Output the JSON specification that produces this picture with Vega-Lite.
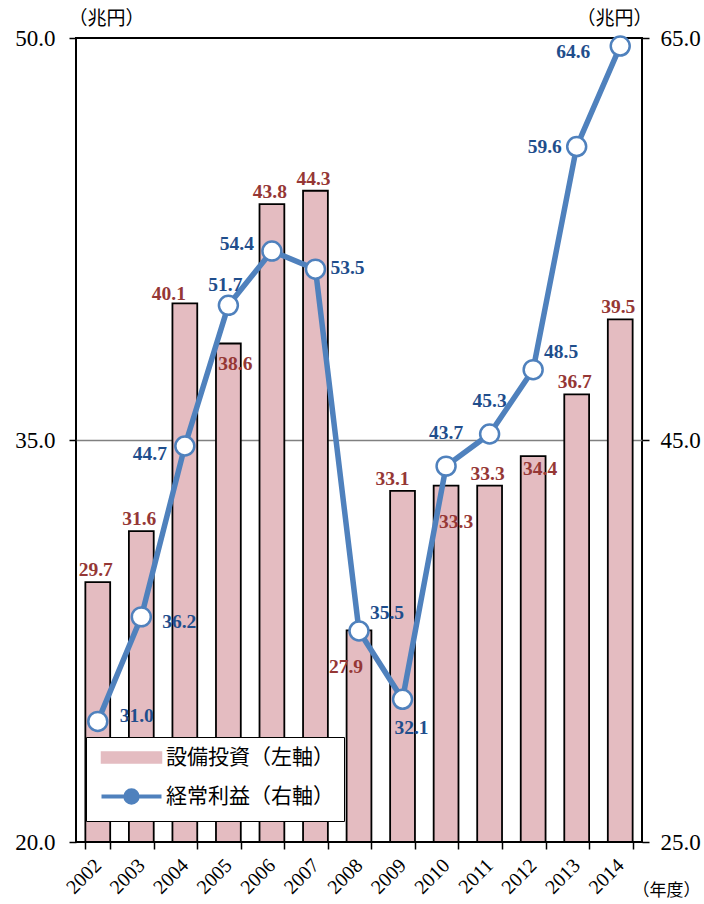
{
  "$schema": "https://vega.github.io/schema/vega-lite/v6.json",
  "width": 566,
  "height": 804,
  "autosize": "none",
  "padding": {"left": 76, "top": 38, "right": 62, "bottom": 62},
  "background": "white",
  "config": {
    "view": {"stroke": "black", "strokeWidth": 2},
    "axis": {
      "domain": false,
      "tickColor": "black",
      "tickWidth": 1.5,
      "tickSize": 7,
      "labelColor": "black",
      "labelFont": "Liberation Serif",
      "titleFont": "Noto Sans CJK JP",
      "titleFontWeight": "normal",
      "titleColor": "black"
    },
    "legend": {
      "orient": "none",
      "legendX": 10,
      "legendY": 699,
      "padding": 10,
      "strokeColor": "black",
      "fillColor": "white",
      "labelFont": "Noto Sans CJK JP",
      "labelFontSize": 21,
      "labelColor": "black",
      "labelLimit": 400,
      "symbolSize": 400,
      "symbolOffset": 25,
      "labelOffset": 24,
      "rowPadding": 14
    }
  },
  "data": {
    "values": [
      {"year": "2002", "capex": 29.7, "profit": 31.0},
      {"year": "2003", "capex": 31.6, "profit": 36.2},
      {"year": "2004", "capex": 40.1, "profit": 44.7},
      {"year": "2005", "capex": 38.6, "profit": 51.7},
      {"year": "2006", "capex": 43.8, "profit": 54.4},
      {"year": "2007", "capex": 44.3, "profit": 53.5},
      {"year": "2008", "capex": 27.9, "profit": 35.5},
      {"year": "2009", "capex": 33.1, "profit": 32.1},
      {"year": "2010", "capex": 33.3, "profit": 43.7},
      {"year": "2011", "capex": 33.3, "profit": 45.3},
      {"year": "2012", "capex": 34.4, "profit": 48.5},
      {"year": "2013", "capex": 36.7, "profit": 59.6},
      {"year": "2014", "capex": 39.5, "profit": 64.6}
    ]
  },
  "encoding": {
    "x": {
      "field": "year",
      "type": "ordinal",
      "scale": {"paddingInner": 0.43, "paddingOuter": 0.215},
      "axis": {
        "title": "（年度）",
        "titleFontSize": 17,
        "titleAngle": 0,
        "titleAlign": "left",
        "titleBaseline": "middle",
        "titleX": 556,
        "titleY": 48,
        "labelAngle": -45,
        "labelAlign": "right",
        "labelBaseline": "middle",
        "labelFontSize": 20,
        "labelPadding": 13,
        "labelLimit": 0,
        "labelOverlap": false,
        "tickBand": "extent"
      }
    }
  },
  "layer": [
    {
      "encoding": {
        "y": {
          "field": "capex",
          "type": "quantitative",
          "scale": {"domain": [20, 50], "nice": false, "zero": false},
          "axis": {
            "orient": "left",
            "values": [20, 35, 50],
            "format": ".1f",
            "labelFontSize": 23,
            "labelPadding": 14,
            "grid": true,
            "gridColor": "#808080",
            "gridWidth": 1.5,
            "gridOpacity": {"condition": {"test": "datum.value === 35", "value": 1}, "value": 0},
            "title": "（兆円）",
            "titleFontSize": 19,
            "titleAngle": 0,
            "titleAlign": "left",
            "titleBaseline": "middle",
            "titleX": -8,
            "titleY": -20
          }
        }
      },
      "layer": [
        {
          "mark": {"type": "bar", "stroke": "black", "strokeWidth": 1.8},
          "encoding": {
            "y2": {"datum": 20},
            "color": {
              "datum": "設備投資（左軸）",
              "type": "nominal",
              "scale": {
                "domain": ["設備投資（左軸）", "経常利益（右軸）"],
                "range": ["#e4bcc1", "#4f81bd"]
              },
              "legend": {
                "title": null,
                "encode": {
                  "symbols": {
                    "update": {
                      "shape": {"signal": "datum.value === '設備投資（左軸）' ? 'M-3,-0.55H3V0.55H-3Z' : 'M-3,0H-0.62M0.62,0H3M0.62,0A0.62,0.62,0,1,1,-0.62,0A0.62,0.62,0,1,1,0.62,0Z'"},
                      "strokeWidth": {"signal": "datum.value === '設備投資（左軸）' ? 1.5 : 4"},
                      "opacity": {"value": 1}
                    }
                  }
                }
              }
            }
          }
        },
        {
          "transform": [{"filter": {"field": "year", "oneOf": ["2002", "2003", "2006", "2007", "2011", "2013", "2014"]}}],
          "mark": {"type": "text", "font": "Liberation Serif", "fontWeight": "bold", "fontSize": 19.5, "color": "#953735", "baseline": "middle", "dx": -2, "dy": -12},
          "encoding": {"text": {"field": "capex", "type": "quantitative", "format": ".1f"}}
        },
        {
          "transform": [{"filter": {"field": "year", "oneOf": ["2004"]}}],
          "mark": {"type": "text", "font": "Liberation Serif", "fontWeight": "bold", "fontSize": 19.5, "color": "#953735", "baseline": "middle", "dx": -16, "dy": -9},
          "encoding": {"text": {"field": "capex", "type": "quantitative", "format": ".1f"}}
        },
        {
          "transform": [{"filter": {"field": "year", "oneOf": ["2009"]}}],
          "mark": {"type": "text", "font": "Liberation Serif", "fontWeight": "bold", "fontSize": 19.5, "color": "#953735", "baseline": "middle", "dx": -10, "dy": -12},
          "encoding": {"text": {"field": "capex", "type": "quantitative", "format": ".1f"}}
        },
        {
          "transform": [{"filter": {"field": "year", "oneOf": ["2005"]}}],
          "mark": {"type": "text", "font": "Liberation Serif", "fontWeight": "bold", "fontSize": 19.5, "color": "#953735", "baseline": "middle", "dx": 7, "dy": 20},
          "encoding": {"text": {"field": "capex", "type": "quantitative", "format": ".1f"}}
        },
        {
          "transform": [{"filter": {"field": "year", "oneOf": ["2008"]}}],
          "mark": {"type": "text", "font": "Liberation Serif", "fontWeight": "bold", "fontSize": 19.5, "color": "#953735", "baseline": "middle", "dx": -13, "dy": 37},
          "encoding": {"text": {"field": "capex", "type": "quantitative", "format": ".1f"}}
        },
        {
          "transform": [{"filter": {"field": "year", "oneOf": ["2010"]}}],
          "mark": {"type": "text", "font": "Liberation Serif", "fontWeight": "bold", "fontSize": 19.5, "color": "#953735", "baseline": "middle", "dx": 10, "dy": 36},
          "encoding": {"text": {"field": "capex", "type": "quantitative", "format": ".1f"}}
        },
        {
          "transform": [{"filter": {"field": "year", "oneOf": ["2012"]}}],
          "mark": {"type": "text", "font": "Liberation Serif", "fontWeight": "bold", "fontSize": 19.5, "color": "#953735", "baseline": "middle", "dx": 7, "dy": 13},
          "encoding": {"text": {"field": "capex", "type": "quantitative", "format": ".1f"}}
        }
      ]
    },
    {
      "encoding": {
        "y": {
          "field": "profit",
          "type": "quantitative",
          "scale": {"domain": [25, 65], "nice": false, "zero": false},
          "axis": {
            "orient": "right",
            "values": [25, 45, 65],
            "format": ".1f",
            "labelFontSize": 23,
            "labelPadding": 11,
            "grid": false,
            "title": "（兆円）",
            "titleFontSize": 19,
            "titleAngle": 0,
            "titleAlign": "right",
            "titleBaseline": "middle",
            "titleX": 10,
            "titleY": -20
          }
        }
      },
      "layer": [
        {
          "mark": {"type": "line", "strokeWidth": 5.5},
          "encoding": {
            "color": {
              "datum": "経常利益（右軸）",
              "type": "nominal",
              "legend": {
                "title": null,
                "encode": {
                  "symbols": {
                    "update": {
                      "shape": {"signal": "datum.value === '設備投資（左軸）' ? 'M-3,-0.55H3V0.55H-3Z' : 'M-3,0H-0.62M0.62,0H3M0.62,0A0.62,0.62,0,1,1,-0.62,0A0.62,0.62,0,1,1,0.62,0Z'"},
                      "strokeWidth": {"signal": "datum.value === '設備投資（左軸）' ? 1.5 : 4"},
                      "opacity": {"value": 1}
                    }
                  }
                }
              }
            }
          }
        },
        {
          "mark": {"type": "point", "shape": "circle", "filled": true, "fill": "white", "stroke": "#4f81bd", "strokeWidth": 2.5, "size": 360, "opacity": 1}
        },
        {
          "transform": [{"filter": {"field": "year", "oneOf": ["2002"]}}],
          "mark": {"type": "text", "font": "Liberation Serif", "fontWeight": "bold", "fontSize": 19.5, "color": "#1f4e8c", "baseline": "middle", "dx": 39, "dy": -5},
          "encoding": {"text": {"field": "profit", "type": "quantitative", "format": ".1f"}}
        },
        {
          "transform": [{"filter": {"field": "year", "oneOf": ["2003"]}}],
          "mark": {"type": "text", "font": "Liberation Serif", "fontWeight": "bold", "fontSize": 19.5, "color": "#1f4e8c", "baseline": "middle", "dx": 38, "dy": 5},
          "encoding": {"text": {"field": "profit", "type": "quantitative", "format": ".1f"}}
        },
        {
          "transform": [{"filter": {"field": "year", "oneOf": ["2007"]}}],
          "mark": {"type": "text", "font": "Liberation Serif", "fontWeight": "bold", "fontSize": 19.5, "color": "#1f4e8c", "baseline": "middle", "dx": 32, "dy": -1},
          "encoding": {"text": {"field": "profit", "type": "quantitative", "format": ".1f"}}
        },
        {
          "transform": [{"filter": {"field": "year", "oneOf": ["2004"]}}],
          "mark": {"type": "text", "font": "Liberation Serif", "fontWeight": "bold", "fontSize": 19.5, "color": "#1f4e8c", "baseline": "middle", "dx": -35, "dy": 8},
          "encoding": {"text": {"field": "profit", "type": "quantitative", "format": ".1f"}}
        },
        {
          "transform": [{"filter": {"field": "year", "oneOf": ["2006"]}}],
          "mark": {"type": "text", "font": "Liberation Serif", "fontWeight": "bold", "fontSize": 19.5, "color": "#1f4e8c", "baseline": "middle", "dx": -35, "dy": -7},
          "encoding": {"text": {"field": "profit", "type": "quantitative", "format": ".1f"}}
        },
        {
          "transform": [{"filter": {"field": "year", "oneOf": ["2013"]}}],
          "mark": {"type": "text", "font": "Liberation Serif", "fontWeight": "bold", "fontSize": 19.5, "color": "#1f4e8c", "baseline": "middle", "dx": -32, "dy": 0},
          "encoding": {"text": {"field": "profit", "type": "quantitative", "format": ".1f"}}
        },
        {
          "transform": [{"filter": {"field": "year", "oneOf": ["2014"]}}],
          "mark": {"type": "text", "font": "Liberation Serif", "fontWeight": "bold", "fontSize": 19.5, "color": "#1f4e8c", "baseline": "middle", "dx": -47, "dy": 6},
          "encoding": {"text": {"field": "profit", "type": "quantitative", "format": ".1f"}}
        },
        {
          "transform": [{"filter": {"field": "year", "oneOf": ["2005"]}}],
          "mark": {"type": "text", "font": "Liberation Serif", "fontWeight": "bold", "fontSize": 19.5, "color": "#1f4e8c", "baseline": "middle", "dx": -3, "dy": -20},
          "encoding": {"text": {"field": "profit", "type": "quantitative", "format": ".1f"}}
        },
        {
          "transform": [{"filter": {"field": "year", "oneOf": ["2010", "2011"]}}],
          "mark": {"type": "text", "font": "Liberation Serif", "fontWeight": "bold", "fontSize": 19.5, "color": "#1f4e8c", "baseline": "middle", "dx": 0, "dy": -33},
          "encoding": {"text": {"field": "profit", "type": "quantitative", "format": ".1f"}}
        },
        {
          "transform": [{"filter": {"field": "year", "oneOf": ["2008", "2012"]}}],
          "mark": {"type": "text", "font": "Liberation Serif", "fontWeight": "bold", "fontSize": 19.5, "color": "#1f4e8c", "baseline": "middle", "dx": 28, "dy": -18},
          "encoding": {"text": {"field": "profit", "type": "quantitative", "format": ".1f"}}
        },
        {
          "transform": [{"filter": {"field": "year", "oneOf": ["2009"]}}],
          "mark": {"type": "text", "font": "Liberation Serif", "fontWeight": "bold", "fontSize": 19.5, "color": "#1f4e8c", "baseline": "middle", "dx": 9, "dy": 29},
          "encoding": {"text": {"field": "profit", "type": "quantitative", "format": ".1f"}}
        }
      ]
    }
  ],
  "resolve": {"scale": {"y": "independent"}}
}
